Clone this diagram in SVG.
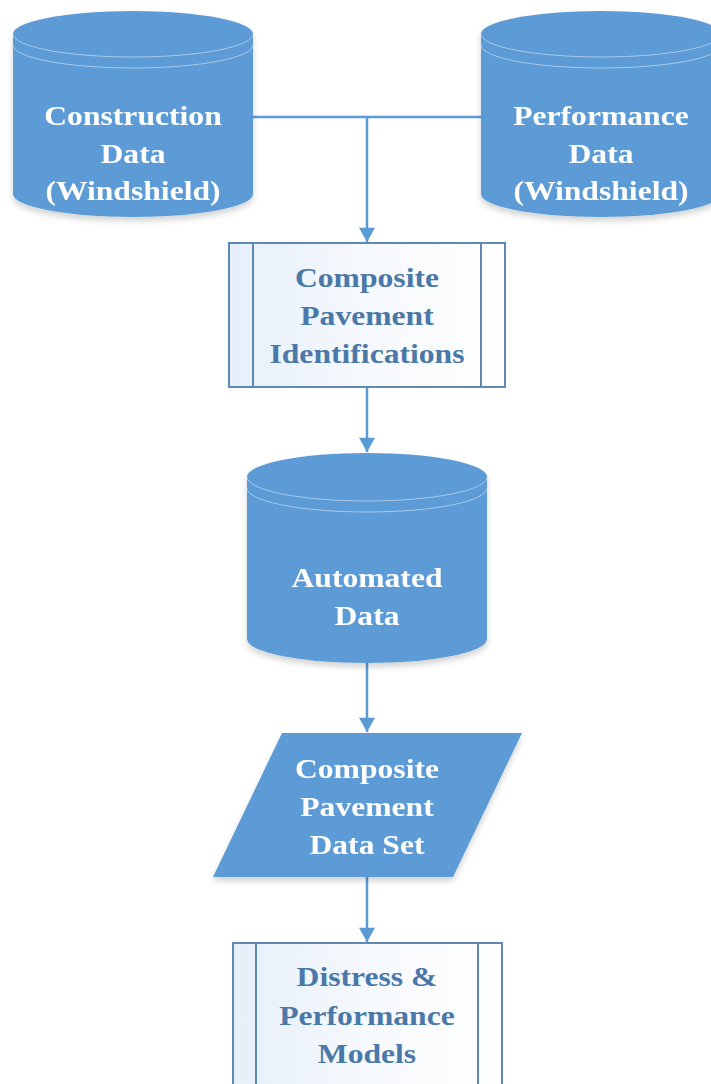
<svg xmlns="http://www.w3.org/2000/svg" width="711" height="1084" viewBox="0 0 711 1084">
<style>
.cyl{fill:#5b9bd5;}
.cylline{fill:none;stroke:#a9c9ea;stroke-width:1;}
.wt{font-family:"Liberation Serif","Times New Roman",serif;font-weight:bold;font-size:28px;fill:#ffffff;text-anchor:middle;}
.bt{font-family:"Liberation Serif","Times New Roman",serif;font-weight:bold;font-size:28px;fill:#4a78a8;text-anchor:middle;}
.box{fill:url(#boxg);stroke:#5f88b5;stroke-width:2;}
.inner{stroke:#5f88b5;stroke-width:2;fill:none;}
.conn{fill:none;stroke:#5b9bd5;stroke-width:2.5;}
</style>
<defs>
<linearGradient id="boxg" x1="0" y1="0" x2="1" y2="0">
<stop offset="0" stop-color="#e6eff9"/>
<stop offset="0.5" stop-color="#f6f9fd"/>
<stop offset="1" stop-color="#ffffff"/>
</linearGradient>
<filter id="sh" x="-10%" y="-10%" width="120%" height="125%">
<feGaussianBlur in="SourceAlpha" stdDeviation="3"/>
<feOffset dx="0" dy="4" result="b"/>
<feComponentTransfer><feFuncA type="linear" slope="0.18"/></feComponentTransfer>
<feMerge><feMergeNode/><feMergeNode in="SourceGraphic"/></feMerge>
</filter>
<marker id="arr" markerWidth="18" markerHeight="16" refX="16" refY="9" orient="auto" markerUnits="userSpaceOnUse" viewBox="0 0 18 18">
<path d="M0,0 L16,9 L0,18 Z" fill="#5b9bd5"/>
</marker>
</defs>

<g id="connectors">
<path class="conn" d="M253,117 H481"/>
<path class="conn" d="M367,117 V242" marker-end="url(#arr)"/>
<path class="conn" d="M367,387 V452" marker-end="url(#arr)"/>
<path class="conn" d="M367,663 V732" marker-end="url(#arr)"/>
<path class="conn" d="M367,877 V942" marker-end="url(#arr)"/>
</g>

<g id="construction-data" filter="url(#sh)">
<path class="cyl" d="M13,34 A120,23 0 0 1 253,34 V194 A120,23 0 0 1 13,194 Z"/>
<path class="cylline" d="M13,34 A120,23 0 0 0 253,34"/>
<path class="cylline" d="M13,45 A120,23 0 0 0 253,45"/>
<g transform="matrix(1.13 0 0 1 -17.29 0)">
<text class="wt" x="133" y="125">Construction</text>
<text class="wt" x="133" y="163">Data</text>
<text class="wt" x="133" y="200">(Windshield)</text>
</g>
</g>

<g id="performance-data" filter="url(#sh)">
<path class="cyl" d="M481,34 A120,23 0 0 1 721,34 V194 A120,23 0 0 1 481,194 Z"/>
<path class="cylline" d="M481,34 A120,23 0 0 0 721,34"/>
<path class="cylline" d="M481,45 A120,23 0 0 0 721,45"/>
<g transform="matrix(1.13 0 0 1 -78.13 0)">
<text class="wt" x="601" y="125">Performance</text>
<text class="wt" x="601" y="163">Data</text>
<text class="wt" x="601" y="200">(Windshield)</text>
</g>
</g>

<g id="composite-pavement-identifications">
<rect class="box" x="229" y="243" width="276" height="144"/>
<line class="inner" x1="253" y1="243" x2="253" y2="387"/>
<line class="inner" x1="481" y1="243" x2="481" y2="387"/>
<g transform="matrix(1.13 0 0 1 -47.71 0)">
<text class="bt" x="367" y="287">Composite</text>
<text class="bt" x="367" y="325">Pavement</text>
<text class="bt" x="367" y="363">Identifications</text>
</g>
</g>

<g id="automated-data" filter="url(#sh)">
<path class="cyl" d="M247,477 A120,24 0 0 1 487,477 V639 A120,24 0 0 1 247,639 Z"/>
<path class="cylline" d="M247,477 A120,24 0 0 0 487,477"/>
<path class="cylline" d="M247,488 A120,24 0 0 0 487,488"/>
<g transform="matrix(1.13 0 0 1 -47.71 0)">
<text class="wt" x="367" y="587">Automated</text>
<text class="wt" x="367" y="625">Data</text>
</g>
</g>

<g id="composite-pavement-data-set" filter="url(#sh)">
<path class="cyl" d="M282,733 H522 L453,877 H213 Z"/>
<g transform="matrix(1.13 0 0 1 -47.71 0)">
<text class="wt" x="367" y="778">Composite</text>
<text class="wt" x="367" y="816">Pavement</text>
<text class="wt" x="367" y="854">Data Set</text>
</g>
</g>

<g id="distress-performance-models">
<rect class="box" x="233" y="943" width="269" height="160"/>
<line class="inner" x1="256" y1="943" x2="256" y2="1084"/>
<line class="inner" x1="478" y1="943" x2="478" y2="1084"/>
<g transform="matrix(1.13 0 0 1 -47.71 0)">
<text class="bt" x="367" y="986">Distress &amp;</text>
<text class="bt" x="367" y="1025">Performance</text>
<text class="bt" x="367" y="1063">Models</text>
</g>
</g>
</svg>
